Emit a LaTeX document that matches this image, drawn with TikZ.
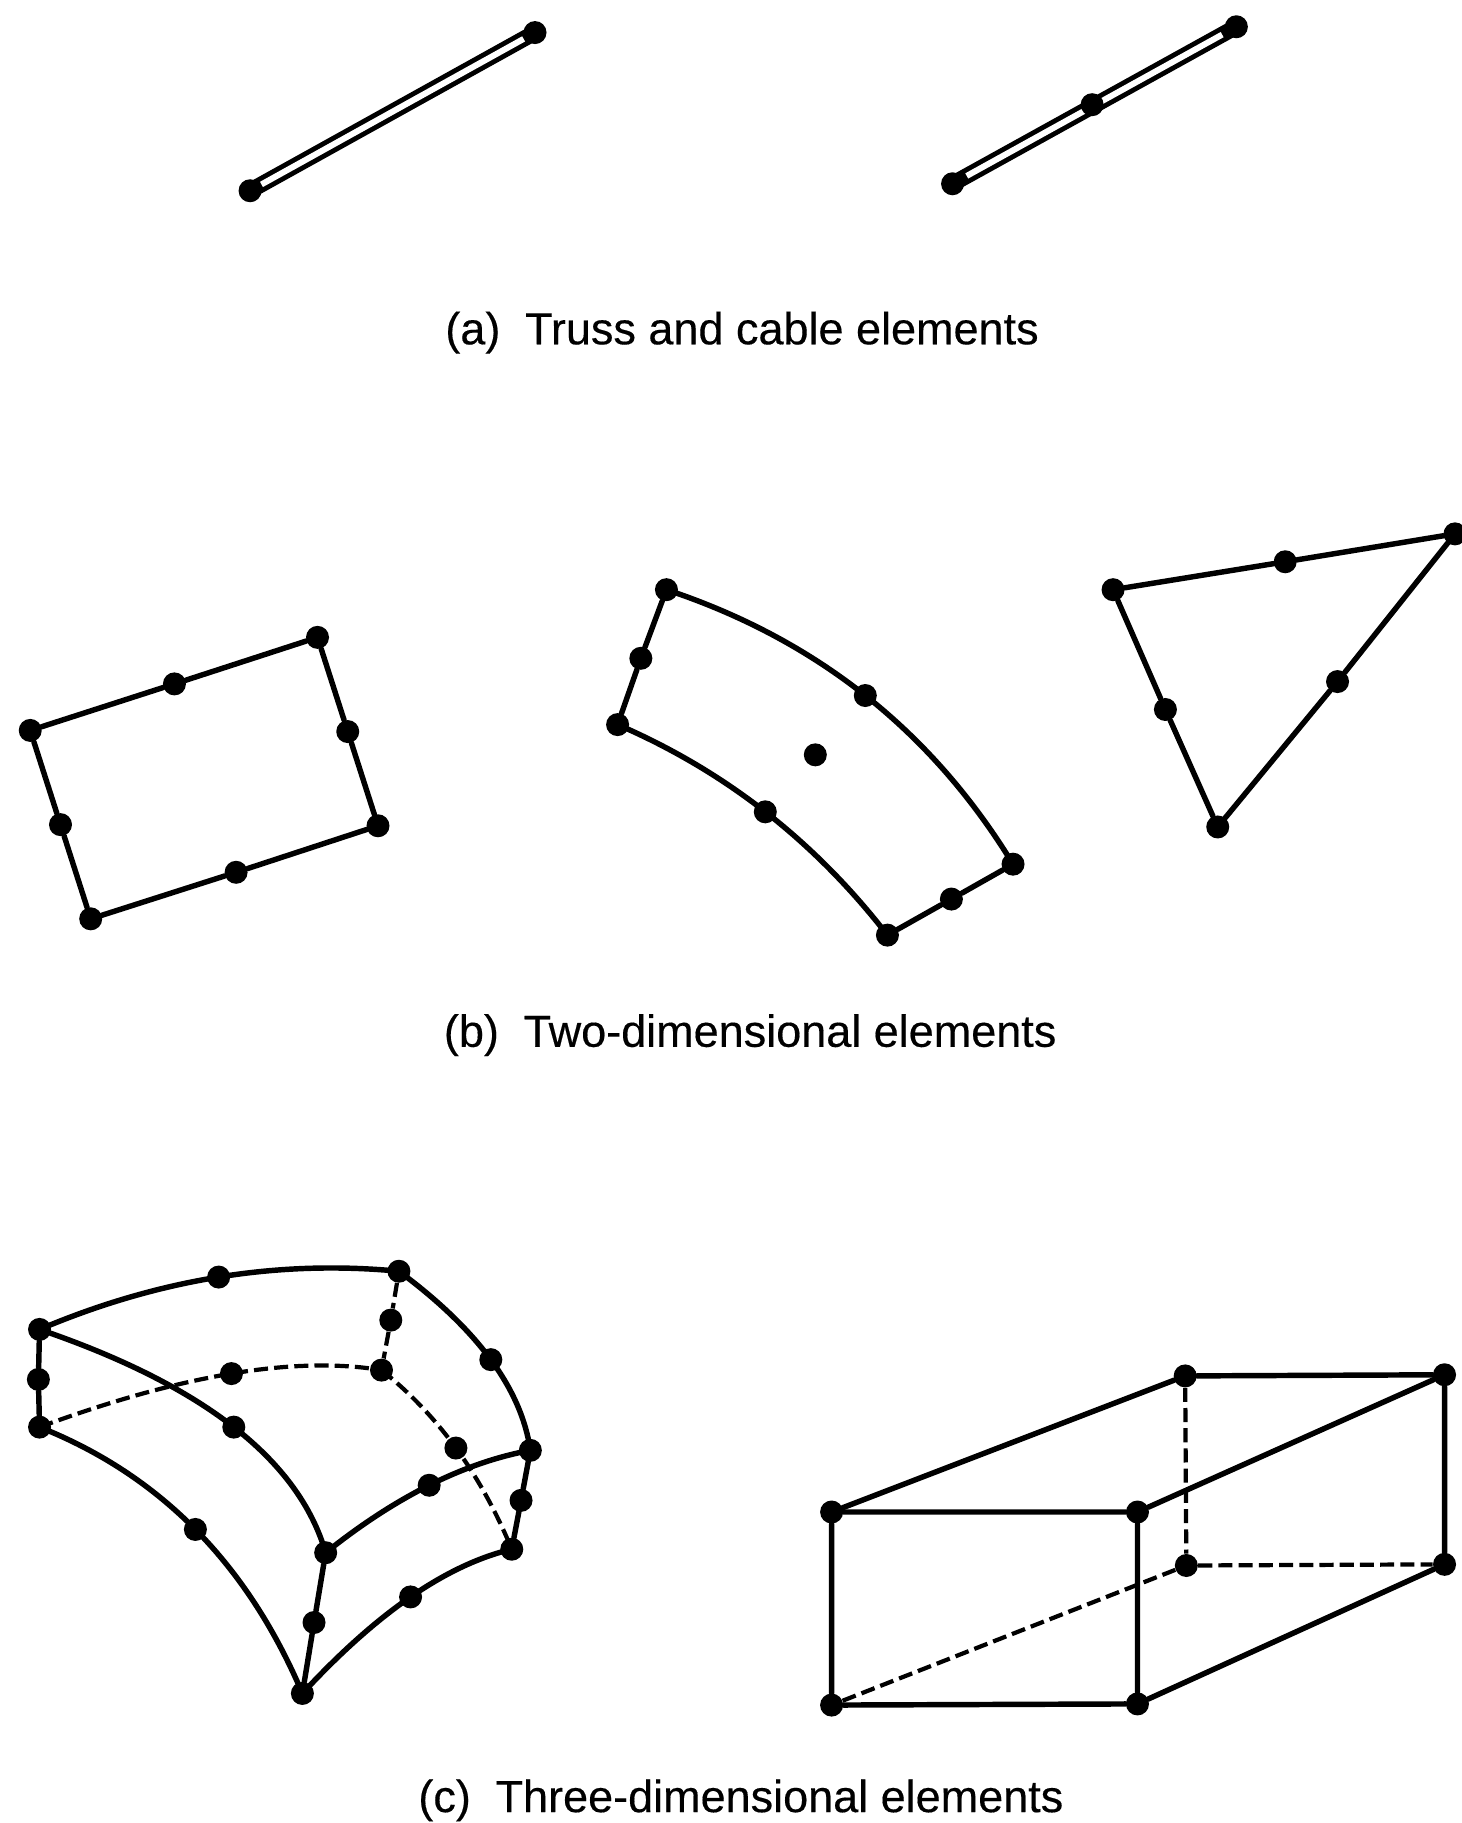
\documentclass[tikz,border=0pt]{standalone}
\usepackage{fontspec}
\usetikzlibrary{calc}
\setmainfont{Liberation Sans}[FakeBold=0.3]
\newcommand{\qcurve}[4]{\draw[#1] (#2.center) .. controls ($(#2.center)!0.667!#3$) and ($(#4.center)!0.667!#3$) .. (#4.center);}
\begin{document}
\begin{tikzpicture}[x=0.02326cm,y=-0.02326cm,
  dotnode/.style={circle,fill=black,draw=none,inner sep=0pt,minimum size=0.46cm},
  edge/.style={line width=3.1pt,black,line cap=round},
  hidden/.style={line width=2.4pt,black,dash pattern=on 8pt off 3.5pt},
  barouter/.style={line width=9pt,black,line cap=butt},
  barinner/.style={line width=3.4pt,white,line cap=butt},
  caption/.style={inner sep=0pt,font=\fontsize{25.6}{30}\selectfont}]
\useasboundingbox (0,0) rectangle (1257,1567.4);
% (a) truss and cable
\coordinate (a1c) at (215,164);
\coordinate (a2c) at (460,28);
\coordinate (b1c) at (819,158);
\coordinate (b2c) at (939,90);
\coordinate (b3c) at (1063,23);
\draw[barouter] (a1c) -- (a2c);
\draw[barinner] ($(a1c)!0.04!(a2c)$) -- ($(a1c)!0.96!(a2c)$);
\draw[barouter] (b1c) -- (b3c);
\draw[barinner] ($(b1c)!0.05!(b3c)$) -- ($(b1c)!0.95!(b3c)$);
\node[dotnode] (a1) at (a1c) {};
\node[dotnode] (a2) at (a2c) {};
\node[dotnode] (b1) at (b1c) {};
\node[dotnode] (b2) at (b2c) {};
\node[dotnode] (b3) at (b3c) {};
\node[caption] (capa) at (638,286) {(a)\hspace{0.55em}Truss and cable elements};
% (b) rectangle
\node[dotnode] (r1) at (26,628) {};
\node[dotnode] (r2) at (273,548) {};
\node[dotnode] (r3) at (325,710) {};
\node[dotnode] (r4) at (78,790) {};
\node[dotnode] (r5) at (150,588) {};
\node[dotnode] (r6) at (299,629) {};
\node[dotnode] (r7) at (203,750) {};
\node[dotnode] (r8) at (52,709) {};
\draw[edge] (r1) -- (r5) -- (r2) -- (r6) -- (r3) -- (r7) -- (r4) -- (r8) -- (r1);
% (b) curved quadrilateral
\node[dotnode] (q1) at (573,507) {};
\node[dotnode] (q2) at (531,623) {};
\node[dotnode] (q3) at (763,804) {};
\node[dotnode] (q4) at (871,743) {};
\node[dotnode] (q5) at (551,566) {};
\node[dotnode] (q6) at (744,598) {};
\node[dotnode] (q7) at (658,698) {};
\node[dotnode] (q8) at (818,773) {};
\node[dotnode] (q9) at (701,649) {};
\draw[edge] (q1) -- (q5) -- (q2);
\draw[edge] (q3) -- (q8) -- (q4);
\qcurve{edge}{q1}{(766,571)}{q4}
\qcurve{edge}{q2}{(669,682.5)}{q3}
% (b) triangle
\node[dotnode] (t1) at (957,507) {};
\node[dotnode] (t2) at (1251,459) {};
\node[dotnode] (t3) at (1047,711) {};
\node[dotnode] (t4) at (1105,483) {};
\node[dotnode] (t5) at (1150,586) {};
\node[dotnode] (t6) at (1002,610) {};
\draw[edge] (t1) -- (t4) -- (t2) -- (t5) -- (t3) -- (t6) -- (t1);
\node[caption] (capb) at (645,890) {(b)\hspace{0.55em}Two-dimensional elements};
% (c) curved solid
\node[dotnode] (s1) at (34,1143) {};
\node[dotnode] (s2) at (33,1186) {};
\node[dotnode] (s3) at (34,1227) {};
\node[dotnode] (s4) at (188,1098) {};
\node[dotnode] (s5) at (343,1093) {};
\node[dotnode] (s6) at (422,1169) {};
\node[dotnode] (s7) at (456,1247) {};
\node[dotnode] (s8) at (448,1290) {};
\node[dotnode] (s9) at (440,1332) {};
\node[dotnode] (s10) at (336,1135) {};
\node[dotnode] (s11) at (328,1178) {};
\node[dotnode] (s12) at (199,1181) {};
\node[dotnode] (s13) at (392,1245) {};
\node[dotnode] (s14) at (201,1227) {};
\node[dotnode] (s15) at (280,1335) {};
\node[dotnode] (s16) at (369,1277) {};
\node[dotnode] (s17) at (270,1395) {};
\node[dotnode] (s18) at (260,1456) {};
\node[dotnode] (s19) at (168,1315) {};
\node[dotnode] (s20) at (353,1373) {};
\draw[edge] (s1) -- (s2) -- (s3);
\draw[edge] (s7) -- (s8) -- (s9);
\draw[edge] (s15) -- (s17) -- (s18);
\qcurve{edge}{s1}{(187.5,1078)}{s5}
\qcurve{edge}{s5}{(444.5,1168)}{s7}
\qcurve{edge}{s1}{(245,1215)}{s15}
\qcurve{edge}{s3}{(189,1288.5)}{s18}
\qcurve{edge}{s15}{(370,1263)}{s7}
\qcurve{edge}{s18}{(356,1352)}{s9}
\draw[hidden] (s5) -- (s10) -- (s11);
\qcurve{hidden}{s3}{(217,1159.5)}{s11}
\qcurve{hidden}{s11}{(400,1235)}{s9}
% (c) box
\node[dotnode] (k1) at (715,1300) {};
\node[dotnode] (k2) at (978,1300) {};
\node[dotnode] (k3) at (1019,1183) {};
\node[dotnode] (k4) at (1242,1182) {};
\node[dotnode] (k5) at (715,1466) {};
\node[dotnode] (k6) at (978,1465) {};
\node[dotnode] (k7) at (1242,1345) {};
\node[dotnode] (k8) at (1020,1346) {};
\draw[edge] (k1) -- (k2) -- (k6) -- (k5) -- (k1);
\draw[edge] (k1) -- (k3) -- (k4) -- (k7) -- (k6);
\draw[edge] (k2) -- (k4);
\draw[hidden] (k3) -- (k8);
\draw[hidden] (k8) -- (k7);
\draw[hidden] (k5) -- (k8);
\node[caption] (capc) at (637,1548) {(c)\hspace{0.55em}Three-dimensional elements};
\end{tikzpicture}
\end{document}
